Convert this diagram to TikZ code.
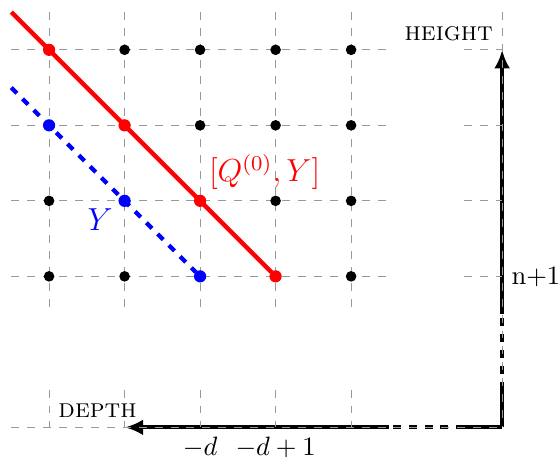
\documentclass[tikz,border=0pt]{standalone}
\usetikzlibrary{positioning,arrows.meta}

\begin{document}
\begin{tikzpicture}[
    grid/.style={draw=gray!80, dashed, line width=0.4pt},
    axis/.style={line width=1.6pt, black},
    dot/.style={circle, fill=#1, inner sep=0pt, minimum size=4pt},
    bigdot/.style={circle, fill=#1, inner sep=0pt, minimum size=4.6pt}
]
\useasboundingbox (-6.65,-0.41) rectangle (0.74,5.66);

% corner of the axes
\coordinate (O) at (0,0);
\coordinate (xa) at (-0.5,0);
\coordinate (xb) at (-1.5,0);
\coordinate (xe) at (-5,0);
\coordinate (ya) at (0,0.5);
\coordinate (yb) at (0,1.5);
\coordinate (ye) at (0,5);

\draw[axis] (O) -- (xa);
\draw[axis, dashed] (xa) -- (xb);
\draw[axis, -{Latex[length=7pt,width=6pt]}] (xb) -- (xe);
\draw[axis] (O) -- (ya);
\draw[axis, dashed] (ya) -- (yb);
\draw[axis, -{Latex[length=7pt,width=6pt]}] (yb) -- (ye);

% grid
\foreach \x in {-6,...,-2} {
  \draw[grid] (\x,5.5) -- (\x,1.5);
  \draw[grid] (\x,0.5) -- (\x,0);
}
\draw[grid] (0,5.5) -- (0,0);
\foreach \y in {2,...,5} {
  \draw[grid] (-6.5,\y) -- (-1.5,\y);
  \draw[grid] (-0.5,\y) -- (0,\y);
}
\draw[grid] (-6.5,0) -- (0,0);

% lattice points
\foreach \x in {-6,...,-2}
  \foreach \y in {2,...,5}
    \node[dot=black] (p\x\y) at (\x,\y) {};

\coordinate (r0) at (-6.5,5.5);
\coordinate (b0) at (-6.5,4.5);
\draw[red, line width=1.6pt] (r0) -- (p-32);
\draw[blue, line width=1.6pt, dashed] (b0) -- (p-42);

\foreach \x/\y in {-6/5,-5/4,-4/3,-3/2}
  \node[bigdot=red] at (p\x\y) {};
\foreach \x/\y in {-6/4,-5/3,-4/2}
  \node[bigdot=blue] at (p\x\y) {};

% labels
\node[red, font=\large, above right=-0.03cm and -0.06cm of p-43] (lq) {$[Q^{(0)},Y]$};
\node[blue, font=\large, below left=-0.08cm and -0.02cm of p-53] (ly) {$Y$};
\node[above left] (lh) at (ye) {\textsc{height}};
\node[above right] (ld) at (-6,0) {\textsc{depth}};
\node[right] (ln) at (0,2) {n+1};
\node[below] (lm) at (-4,0) {$-d$};
\node[below] (lm1) at (-3,0) {$-d+1$};

\end{tikzpicture}
\end{document}
